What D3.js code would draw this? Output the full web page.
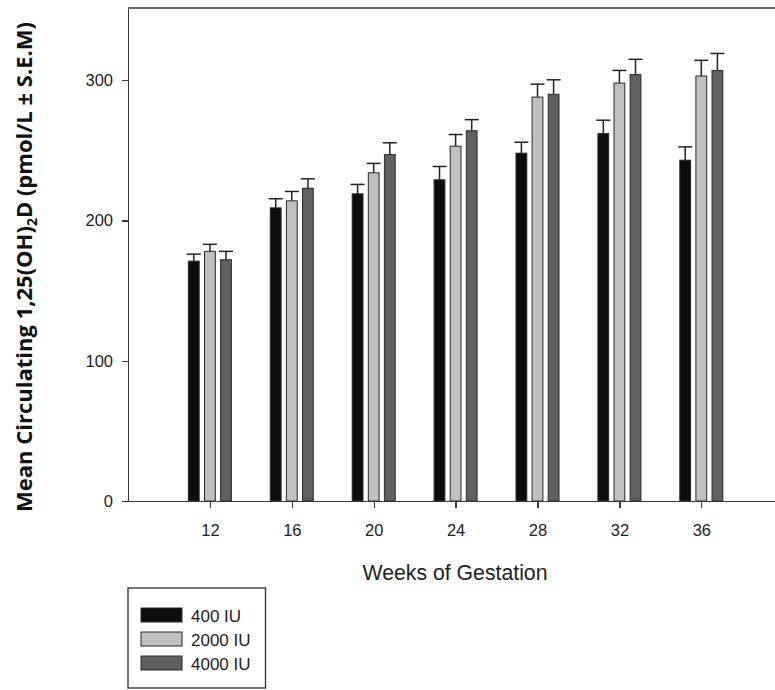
<!DOCTYPE html>
<html>
<head>
<meta charset="utf-8">
<title></title>
<style>
  body { margin: 0; background: white; }
  svg { display: block; background: white; }
  .axis path, .axis line { stroke: #3a3a3a; stroke-width: 1.4px; shape-rendering: crispEdges; }
  .axis text { font-family: "Liberation Sans", Arial, sans-serif; font-size: 16.5px; fill: #222; }
</style>
</head>
<body>
<div id="chart"></div>
<script src="https://cdnjs.cloudflare.com/ajax/libs/d3/7.8.5/d3.min.js"></script>
<script>
// data
var weeks = [12, 16, 20, 24, 28, 32, 36];
var series = ["400 IU", "2000 IU", "4000 IU"];
var iu400  = [171, 209, 219, 229, 248, 262, 243];
var iu2000 = [178, 214, 234, 253, 288, 298, 303];
var iu4000 = [172, 223, 247, 264, 290, 304, 307];
var sem400  = [5, 6.5, 6.7, 9.5, 7.8, 9.5, 9.5];
var sem2000 = [5, 6.7, 6.7, 8.3, 9.2, 9, 11.2];
var sem4000 = [6, 6.7, 8.4, 7.9, 10.3, 10.9, 12.1];
var yTicks = [0, 100, 200, 300];
var colors = ["#0b0c0c", "#c0c0c0", "#606060"];

var means = [iu400, iu2000, iu4000];
var sems = [sem400, sem2000, sem4000];

var W = 775, H = 690;
var svg = d3.select("#chart").append("svg").attr("width", W).attr("height", H);

var x = d3.scaleLinear().domain([8, 40]).range([128, 783.2]);
var y = d3.scaleLinear().domain([0, 351.5]).range([501, 8]);
var sub = d3.scaleBand().domain(series).range([-21.5, 21.5]).paddingInner(0.33);

// rows: one per bar
var rows = [];
series.forEach(function(s, i) {
  weeks.forEach(function(w, j) {
    rows.push({ s: s, i: i, w: w, v: means[i][j], e: sems[i][j] });
  });
});

// frame top
svg.append("line")
  .attr("x1", x(8)).attr("x2", W)
  .attr("y1", y(351.5)).attr("y2", y(351.5))
  .attr("stroke", "#3a3a3a").attr("stroke-width", 1.4);

// error bars (upper only)
var eb = svg.append("g").attr("stroke", "#222").attr("stroke-width", 1.5);
eb.selectAll("line.v").data(rows).enter().append("line")
  .attr("x1", function(d) { return x(d.w) + sub(d.s) + sub.bandwidth() / 2; })
  .attr("x2", function(d) { return x(d.w) + sub(d.s) + sub.bandwidth() / 2; })
  .attr("y1", function(d) { return y(d.v); })
  .attr("y2", function(d) { return y(d.v + d.e); });
eb.selectAll("line.c").data(rows).enter().append("line")
  .attr("x1", function(d) { return x(d.w) + sub(d.s) + sub.bandwidth() / 2 - 7; })
  .attr("x2", function(d) { return x(d.w) + sub(d.s) + sub.bandwidth() / 2 + 7; })
  .attr("y1", function(d) { return y(d.v + d.e); })
  .attr("y2", function(d) { return y(d.v + d.e); });

// bars
svg.append("g").selectAll("rect").data(rows).enter().append("rect")
  .attr("x", function(d) { return x(d.w) + sub(d.s); })
  .attr("y", function(d) { return y(d.v); })
  .attr("width", sub.bandwidth())
  .attr("height", function(d) { return y(0) - y(d.v); })
  .attr("fill", function(d) { return colors[d.i]; })
  .attr("stroke", "#2a2a2a")
  .attr("stroke-width", 1);

// axes
svg.append("g").attr("class", "axis")
  .attr("transform", "translate(0," + y(0) + ")")
  .call(d3.axisBottom(x).tickValues(weeks).tickSize(7).tickSizeOuter(0).tickPadding(16));

svg.append("g").attr("class", "axis")
  .attr("transform", "translate(" + x(8) + ",0)")
  .call(d3.axisLeft(y).tickValues(yTicks).tickSize(6).tickSizeOuter(0).tickPadding(9));

// axis titles
svg.append("text")
  .attr("x", 455).attr("y", 580)
  .attr("text-anchor", "middle")
  .attr("textLength", 185)
  .attr("lengthAdjust", "spacingAndGlyphs")
  .style("font-family", "'Liberation Sans', Arial, sans-serif")
  .style("font-size", "22px")
  .attr("fill", "#222")
  .text("Weeks of Gestation");

var yt = svg.append("text")
  .attr("transform", "translate(32,267) rotate(-90)")
  .attr("text-anchor", "middle")
  .attr("textLength", 490)
  .attr("lengthAdjust", "spacingAndGlyphs")
  .style("font-family", "'Open Sans', 'Noto Sans', sans-serif")
  .style("font-weight", "bold")
  .style("font-size", "22px")
  .attr("fill", "#111");
yt.append("tspan").text("Mean Circulating 1,25(OH)");
yt.append("tspan").attr("dy", 5).style("font-size", "14px").text("2");
yt.append("tspan").attr("dy", -5).text("D (pmol/L \u00b1 S.E.M)");

// legend
var lg = svg.append("g");
lg.append("rect")
  .attr("x", 128).attr("y", 588).attr("width", 137.5).attr("height", 100)
  .attr("fill", "white").attr("stroke", "#3a3a3a").attr("stroke-width", 1.4);
var items = lg.selectAll("g.item").data(series).enter().append("g")
  .attr("transform", function(d, i) { return "translate(141," + (608 + i * 24) + ")"; });
items.append("rect")
  .attr("width", 41).attr("height", 14)
  .attr("fill", function(d, i) { return colors[i]; })
  .attr("stroke", "#2a2a2a").attr("stroke-width", 1);
items.append("text")
  .attr("x", 50).attr("y", 13.5)
  .style("font-family", "'Liberation Sans', Arial, sans-serif")
  .style("font-size", "17px")
  .attr("fill", "#222")
  .text(function(d) { return d; });
</script>
</body>
</html>
